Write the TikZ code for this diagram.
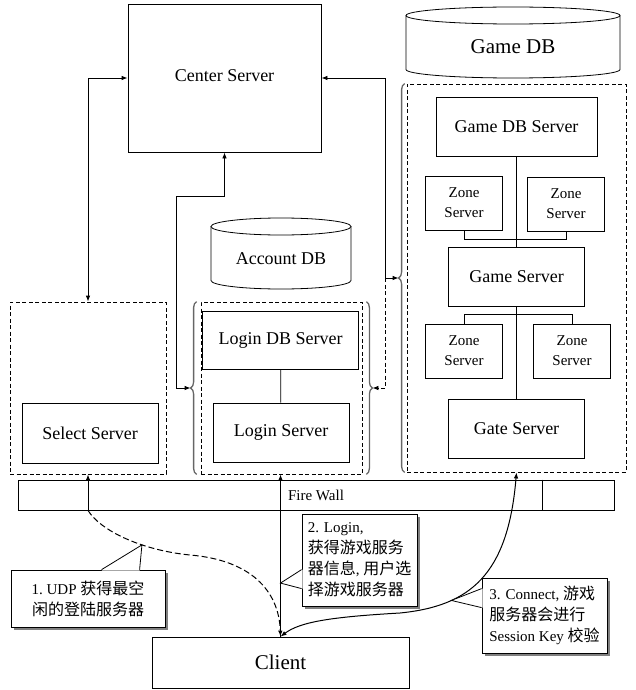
\documentclass[tikz,border=0pt]{standalone}
\usepackage{fontspec}
\setmainfont{Liberation Serif}
\newfontfamily\cjk{Noto Sans CJK SC}
\usepackage{tikz}
\usetikzlibrary{arrows.meta,calc,decorations.pathreplacing,shadows}
\newcommand{\fsz}[2]{\fontsize{#1}{#2}\selectfont}
\newcommand{\zh}[1]{{\cjk\fontsize{16}{21}\selectfont #1}}

\begin{document}
\begin{tikzpicture}[x=1pt,y=-1pt,line width=.8pt,>={Latex[length=6pt,width=4.5pt]},
  srv/.style={draw,inner sep=0pt,font=\fsz{18}{21}},
  zone/.style={srv,font=\fsz{15}{20},align=center,minimum width=77pt,minimum height=54pt},
  grp/.style={draw,dash pattern=on 4pt off 2.5pt,inner sep=0pt},
  brc/.style={decorate,decoration={brace,amplitude=6pt},draw=black!60,line width=1.3pt},
  note/.style={draw,fill=white,inner sep=3pt,font=\fsz{15}{21},
    drop shadow={shadow xshift=2.5pt,shadow yshift=-2.5pt,fill=black!50,opacity=1}}]
  \useasboundingbox (0,0) rectangle (636,690);

  % top row
  \node[srv,minimum width=193pt,minimum height=148pt] (center) at (224.5,78) {\raisebox{4pt}{Center Server}};
  \draw (513,15.5) ellipse[x radius=107,y radius=8.5];
  \draw (406,15.5) -- (406,69.5) arc[start angle=180,end angle=0,x radius=107,y radius=8.5] -- (620,15.5);
  \node[font=\fsz{21}{24}] (gamedb) at (513,47) {Game DB};
  \draw (281,226.5) ellipse[x radius=70,y radius=8.5];
  \draw (211,226.5) -- (211,280.5) arc[start angle=180,end angle=0,x radius=70,y radius=8.5] -- (351,226.5);
  \node[font=\fsz{18}{21}] (acctdb) at (281,259) {Account DB};

  % server groups
  \node[grp,minimum width=156pt,minimum height=172pt] (selectgrp) at (88,388) {};
  \node[grp,minimum width=161pt,minimum height=172pt] (logingrp) at (281.5,388) {};
  \node[grp,minimum width=219pt,minimum height=388pt] (gamegrp) at (516.5,278) {};
  \node[srv,minimum width=136pt,minimum height=60pt] (select) at (90,433) {Select Server};
  \node[srv,minimum width=156pt,minimum height=58pt] (logindb) at (280.5,340) {Login DB Server};
  \node[srv,minimum width=136pt,minimum height=59pt] (login) at (281,432.5) {Login Server};
  \node[srv,minimum width=161pt,minimum height=59pt] (gamedbsrv) at (516.5,126.5) {Game DB Server};
  \node[zone] (zone1) at (464,203) {Zone\\Server};
  \node[zone] (zone2) at (566,204) {Zone\\Server};
  \node[srv,minimum width=136pt,minimum height=59pt] (gamesrv) at (516.5,276.5) {Game Server};
  \node[zone] (zone3) at (464,351) {Zone\\Server};
  \node[zone] (zone4) at (572,351) {Zone\\Server};
  \node[srv,minimum width=136pt,minimum height=59pt] (gate) at (516.5,428.5) {Gate Server};

  \draw (logindb) -- (login);
  \draw (gamedbsrv) -- (gamesrv);
  \draw (gamesrv) -- (gate);
  \draw (zone1.south) -- ++(0,8.5) -| (zone2.south);
  \draw (zone3.north) -- ++(0,-9) -| (zone4.north);

  % braces
  \draw[brc] ([xshift=-4pt]logingrp.south west) -- ([xshift=-4pt]logingrp.north west);
  \draw[brc] ([xshift=4pt]logingrp.north east) -- ([xshift=4pt]logingrp.south east);
  \draw[brc] ([xshift=-2pt]gamegrp.south west) -- ([xshift=-2pt]gamegrp.north west);
  \coordinate (lbw) at ([xshift=-10pt]logingrp.west);
  \coordinate (lbe) at ([xshift=10pt]logingrp.east);
  \coordinate (gbw) at ([xshift=-8pt]gamegrp.west);

  % links to center server
  \draw[<->] (center.west) -| (selectgrp.north);
  \draw[<->] (center.south) -- ++(0,44) -| ([xshift=-14pt]lbw) -- (lbw);
  \draw[<->] (center.east) -- ++(64,0) coordinate (rtop) |- (gbw);
  \draw[->,dash pattern=on 4pt off 2.5pt] (rtop |- gbw) -- (rtop |- lbe) -- (lbe);

  % fire wall and client
  \node[draw,minimum width=596pt,minimum height=30pt,inner sep=0pt,font=\fsz{15}{17}] (firewall) at (316,495) {Fire Wall};
  \draw ([xshift=-72.3pt]firewall.north east) -- ([xshift=-72.3pt]firewall.south east);
  \node[srv,minimum width=257pt,minimum height=51pt,font=\fsz{21}{24}] (client) at (280.5,662.5) {Client};

  \draw[->] (selectgrp.south |- firewall.south) -- (selectgrp.south);
  \draw[->,line width=1pt,dash pattern=on 6pt off 3pt] (selectgrp.south |- firewall.south)
    .. controls (100,530) and (140,550) .. (190,555) coordinate[pos=.65] (t1)
    .. controls (250,560) and (279,590) .. (client.north);
  \draw[->] (client.north) -- (client.north |- logingrp.south) coordinate[pos=.33] (t2);
  \draw[<->,line width=1pt] (client.north)
    .. controls (300,622) and (330,617) .. (400,613)
    .. controls (470,606) and (508,575) .. (gamegrp.south) coordinate[pos=.28] (t3);

  % notes
  \node[note,minimum width=154pt,minimum height=57pt,align=center] (c1) at (88,598.5)
    {1.~UDP \zh{获得最空}\\\zh{闲的登陆服务器}};
  \fill[white] ([xshift=91pt,yshift=-1pt]c1.north west) -- (t1) -- ([xshift=129pt,yshift=-1pt]c1.north west) -- cycle;
  \draw ([xshift=91pt]c1.north west) -- (t1) -- ([xshift=129pt]c1.north west);

  \node[note,minimum width=115pt,minimum height=92pt,align=left] (c2) at (359.5,560)
    {2. Login,\\\zh{获得游戏服务}\\\zh{器信息}, \zh{用户选}\\\zh{择游戏服务器}};
  \fill[white] ([xshift=1pt,yshift=-56pt]c2.north west) -- (t2) -- ([xshift=1pt,yshift=-75pt]c2.north west) -- cycle;
  \draw ([yshift=-56pt]c2.north west) -- (t2) -- ([yshift=-75pt]c2.north west);

  \node[note,minimum width=125pt,minimum height=75pt,align=left] (c3) at (544.5,615.5)
    {3. Connect, \zh{游戏}\\\zh{服务器会进行}\\Session Key \zh{校验}};
  \fill[white] ([xshift=1pt,yshift=-11pt]c3.north west) -- (t3) -- ([xshift=1pt,yshift=-30pt]c3.north west) -- cycle;
  \draw ([yshift=-11pt]c3.north west) -- (t3) -- ([yshift=-30pt]c3.north west);
\end{tikzpicture}
\end{document}
